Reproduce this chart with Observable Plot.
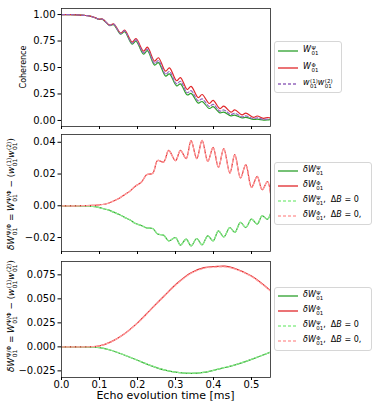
<!DOCTYPE html>
<html><head><meta charset="utf-8">
<script src="https://cdn.jsdelivr.net/npm/d3@7"></script>
<script src="https://cdn.jsdelivr.net/npm/@observablehq/plot@0.6"></script>
<style>
body{margin:0;background:#fff;font-family:"DejaVu Sans",sans-serif;}
#fig{position:relative;width:374px;height:406px;overflow:hidden;background:#fff;}
.leg{position:absolute;background:#fff;border:1px solid #d6d6d6;border-radius:3px;box-sizing:border-box;}
.row{position:absolute;left:0;height:0;width:100%;}
.sw{position:absolute;left:2px;top:-2px;}
.lt{position:absolute;left:28px;top:0;transform:translateY(-50%);white-space:nowrap;font-size:8px;line-height:1;}
.ss{display:inline-flex;flex-direction:column;vertical-align:0.42em;font-size:0.68em;line-height:1.0;margin-left:0.5px;}
.ylab{position:absolute;transform:translate(-50%,-50%) rotate(-90deg);white-space:nowrap;font-size:8.8px;line-height:1;}
.xlab{position:absolute;transform:translate(-50%,-50%);white-space:nowrap;font-size:11px;line-height:1;}
</style></head>
<body><div id="fig"></div>
<script>
// ---------- data ----------
const xTicks = [0, 0.1, 0.2, 0.3, 0.4, 0.5];

// Panel 1: coherence
const tCoh = [0,0.02,0.04,0.06,0.075,0.09,0.098,0.108,0.127,0.137,0.156,0.166,0.186,0.196,0.216,0.226,0.245,0.255,0.274,0.284,0.303,0.313,0.331,0.341,0.36,0.37,0.389,0.399,0.417,0.427,0.446,0.456,0.475,0.485,0.505,0.515,0.532,0.542,0.55];
const cohPhi = [1.000,0.999,0.997,0.992,0.985,0.968,0.957,0.957,0.900,0.912,0.825,0.852,0.740,0.772,0.655,0.692,0.560,0.592,0.465,0.497,0.375,0.405,0.292,0.322,0.215,0.245,0.160,0.189,0.112,0.135,0.078,0.100,0.052,0.069,0.030,0.042,0.020,0.028,0.022];
const cohProd = [1.000,0.999,0.997,0.992,0.985,0.968,0.956,0.956,0.898,0.909,0.820,0.845,0.730,0.760,0.639,0.673,0.538,0.564,0.438,0.462,0.346,0.370,0.262,0.281,0.185,0.204,0.132,0.152,0.088,0.099,0.057,0.068,0.034,0.043,0.018,0.024,0.010,0.013,0.014];
const cohPsi = [1.000,0.999,0.997,0.992,0.985,0.967,0.955,0.954,0.895,0.905,0.814,0.838,0.721,0.748,0.626,0.659,0.523,0.546,0.419,0.440,0.326,0.345,0.241,0.256,0.164,0.179,0.113,0.130,0.072,0.079,0.043,0.051,0.024,0.029,0.010,0.012,0.004,0.005,0.009];

// Panel 2: differences
const tDiff = [0,0.02,0.04,0.06,0.08,0.094,0.108,0.123,0.137,0.152,0.166,0.181,0.195,0.21,0.224,0.24,0.253,0.269,0.282,0.3,0.313,0.328,0.341,0.356,0.37,0.385,0.399,0.413,0.427,0.443,0.456,0.471,0.485,0.5,0.515,0.528,0.542,0.55];
const dPhi = [0,0,0,0.0001,0.0002,0.0004,0.0008,0.0016,0.0030,0.0048,0.0070,0.0094,0.0125,0.0148,0.0195,0.0205,0.0285,0.0276,0.0349,0.0284,0.0349,0.0297,0.0410,0.0297,0.0412,0.0279,0.0368,0.0242,0.0360,0.0206,0.0322,0.0175,0.0259,0.0115,0.0185,0.0101,0.0153,0.0080];
const dPsi = [0,0,0,-0.0001,-0.0004,-0.0008,-0.0017,-0.0026,-0.0040,-0.0055,-0.0073,-0.0090,-0.0112,-0.0124,-0.0140,-0.0143,-0.0178,-0.0185,-0.0221,-0.0200,-0.0248,-0.0210,-0.0252,-0.0206,-0.0246,-0.0189,-0.0221,-0.0158,-0.0196,-0.0137,-0.0168,-0.0105,-0.0137,-0.0084,-0.0115,-0.0063,-0.0085,-0.0050];
const dPhiB0 = dPhi;
const dPsiB0 = dPsi;

// Panel 3: smooth differences
const tSm = [0,0.05,0.08,0.1,0.13,0.165,0.2,0.235,0.27,0.305,0.34,0.375,0.41,0.43,0.455,0.5,0.55];
const sPhi = [0,0,0.0002,0.0010,0.0052,0.0135,0.0250,0.0390,0.0530,0.0665,0.0770,0.0825,0.0838,0.0840,0.0818,0.0737,0.0585];
const sPsi = [0,0,-0.0002,-0.0007,-0.0035,-0.0085,-0.0140,-0.0195,-0.0240,-0.0266,-0.0275,-0.0265,-0.0235,-0.0215,-0.0190,-0.0130,-0.0055];
const sPhiB0 = [0,0,0.0002,0.0010,0.0051,0.0133,0.0247,0.0386,0.0525,0.0659,0.0763,0.0818,0.0831,0.0833,0.0812,0.0732,0.0581];
const sPsiB0 = [0,0,-0.0002,-0.0007,-0.0034,-0.0084,-0.0139,-0.0194,-0.0239,-0.0265,-0.0274,-0.0264,-0.0234,-0.0214,-0.0189,-0.0129,-0.0054];

// colours
const GREEN = "#2ca02c", RED = "#e0282b", PURPLE = "#9467bd", LGREEN = "#90ee90", LRED = "#ffa3a3";

// ---------- drawing ----------
const fig = document.getElementById("fig");
const W = 374;

function panel({top, height, mt, mb, ydomain, yticks, yfmt, xlabels, marks}) {
  const p = Plot.plot({
    width: W, height, marginLeft: 61, marginRight: 104, marginTop: mt, marginBottom: mb,
    x: {domain: [0, 0.55]},
    y: {domain: ydomain},
    style: {fontFamily: "DejaVu Sans", fontSize: "10px", color: "black", background: "transparent", overflow: "visible"},
    marks: [
      ...marks,
      Plot.frame({stroke: "#222", strokeWidth: 0.8}),
      Plot.axisY({ticks: yticks, tickFormat: yfmt, tickSize: 3.5, tickPadding: 2.5, label: null}),
      Plot.axisX({ticks: xTicks, tickFormat: xlabels ? d3.format(".1f") : () => "", tickSize: 3, tickPadding: 0, label: null})
    ]
  });
  p.style.position = "absolute"; p.style.top = top + "px"; p.style.left = "0px";
  fig.appendChild(p);
}

const ln = (t, v, stroke, extra = {}) => Plot.line(t, {x: t, y: v, stroke, strokeWidth: 1.2, curve: "catmull-rom", clip: true, ...extra});

panel({top: 0, height: 130, mt: 8, mb: 4, ydomain: [-0.057, 1.057], yticks: [0, 0.25, 0.5, 0.75, 1], yfmt: d3.format(".2f"), xlabels: false,
  marks: [ln(tCoh, cohPsi, GREEN), ln(tCoh, cohPhi, RED), ln(tCoh, cohProd, PURPLE, {strokeDasharray: "3,2"})]});

panel({top: 130, height: 125, mt: 4, mb: 4, ydomain: [-0.0288, 0.0449], yticks: [-0.02, 0, 0.02, 0.04], yfmt: d3.format(".2f"), xlabels: false,
  marks: [ln(tDiff, dPsi, GREEN), ln(tDiff, dPhi, RED), ln(tDiff, dPsiB0, LGREEN, {strokeDasharray: "3,2"}), ln(tDiff, dPhiB0, LRED, {strokeDasharray: "3,2"})]});

panel({top: 255, height: 151, mt: 6, mb: 29, ydomain: [-0.0319, 0.0889], yticks: [-0.025, 0, 0.025, 0.05, 0.075], yfmt: d3.format(".3f"), xlabels: true,
  marks: [ln(tSm, sPsi, GREEN), ln(tSm, sPhi, RED), ln(tSm, sPsiB0, LGREEN, {strokeDasharray: "3,2"}), ln(tSm, sPhiB0, LRED, {strokeDasharray: "3,2"})]});

// ---------- text helpers ----------
const ss = (sup, sub) => `<span class="ss"><span>${sup}</span><span>${sub}</span></span>`;
const prodTxt = `<i>w</i>${ss("(1)", "01")}<i>w</i>${ss("(2)", "01")}`;

function legend(left, top, width, height, rows) {
  const box = document.createElement("div");
  box.className = "leg";
  Object.assign(box.style, {left: left + "px", top: top + "px", width: width + "px", height: height + "px"});
  rows.forEach(r => {
    const row = document.createElement("div");
    row.className = "row"; row.style.top = r.y + "px";
    row.innerHTML = `<svg class="sw" width="22" height="4"><line x1="1" x2="21" y1="2" y2="2" stroke="${r.color}" stroke-width="1.3" ${r.dash ? 'stroke-dasharray="3,2"' : ""}/></svg><div class="lt">${r.label}</div>`;
    box.appendChild(row);
  });
  fig.appendChild(box);
}

legend(274, 41, 68, 52, [
  {y: 9, color: GREEN, label: `<i>W</i>${ss("Ψ", "01")}`},
  {y: 25.5, color: RED, label: `<i>W</i>${ss("Φ", "01")}`},
  {y: 42, color: PURPLE, dash: true, label: prodTxt}
]);
const dRows = [
  {y: 8, color: GREEN, label: `<i>δW</i>${ss("Ψ", "01")}`},
  {y: 23, color: RED, label: `<i>δW</i>${ss("Φ", "01")}`},
  {y: 38, color: LGREEN, dash: true, label: `<i>δW</i>${ss("Ψ", "01")},&nbsp; Δ<i>B</i> = 0`},
  {y: 53, color: LRED, dash: true, label: `<i>δW</i>${ss("Φ", "01")},&nbsp; Δ<i>B</i> = 0,`}
];
legend(274, 162, 98, 63, dRows);
legend(274, 287, 98, 64, dRows);

function ylab(x, y, html, size) {
  const d = document.createElement("div");
  d.className = "ylab"; d.style.left = x + "px"; d.style.top = y + "px"; d.innerHTML = html;
  if (size) d.style.fontSize = size;
  fig.appendChild(d);
}
ylab(24, 67, "Coherence", "8px");
const dLab = `<i>δW</i>${ss("Ψ/Φ", "01")} = <i>W</i>${ss("Ψ/Φ", "01")} − (${prodTxt})`;
ylab(12, 194, dLab);
ylab(12, 316, dLab);

const xl = document.createElement("div");
xl.className = "xlab"; xl.style.left = "165.5px"; xl.style.top = "395px";
xl.textContent = "Echo evolution time [ms]";
fig.appendChild(xl);
</script></body></html>
